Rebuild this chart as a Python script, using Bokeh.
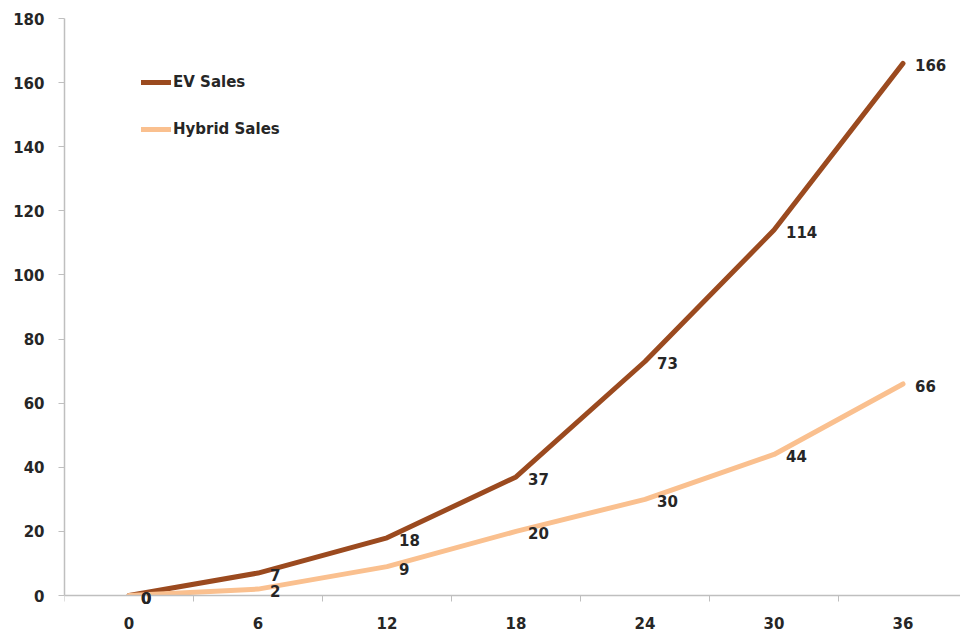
from bokeh.plotting import figure
from bokeh.models import (ColumnDataSource, Range1d, FixedTicker, Label,
                          Legend, LegendItem, BoxAnnotation)
from bokeh.embed import file_html
from bokeh.resources import INLINE

# Months since launch and cumulative sales
months = [0, 6, 12, 18, 24, 30, 36]
ev_sales = [0, 7, 18, 37, 73, 114, 166]
hybrid_sales = [0, 2, 9, 20, 30, 44, 66]
y_ticks = [0, 20, 40, 60, 80, 100, 120, 140, 160, 180]

EV_COLOR = "#9B4A1F"
HYBRID_COLOR = "#FAC08F"
TEXT_COLOR = "#262626"
AXIS_COLOR = "#BFBFBF"
FONT = "DejaVu Sans"
FONT_SIZE = "15px"

W, H = 960, 634
LEFT, TOP = 64, 18
ZERO_PX = 595            # canvas row of the value axis' zero
band = 129.0             # pixels per 6-month step
x_start = -3.0
x_end = x_start + (W - LEFT) / band * 6.0
px_per_unit = (ZERO_PX - TOP) / 180.0
y_start = -(H - ZERO_PX) / px_per_unit   # room under zero for the month labels

p = figure(width=W, height=H, output_backend="svg", toolbar_location=None,
           x_range=Range1d(x_start, x_end), y_range=Range1d(y_start, 180),
           min_border_left=LEFT, min_border_right=0,
           min_border_top=TOP, min_border_bottom=0)
p.outline_line_color = None
p.xgrid.visible = False
p.ygrid.visible = False
p.background_fill_color = "white"
p.border_fill_color = "white"

src = ColumnDataSource(dict(x=months, ev=ev_sales, hy=hybrid_sales))

ev_r = p.line("x", "ev", source=src, line_color=EV_COLOR, line_width=5,
              line_cap="round", line_join="round", level="underlay")
hy_r = p.line("x", "hy", source=src, line_color=HYBRID_COLOR, line_width=5,
              line_cap="round", line_join="round", level="underlay")

# keep the lines above the zero line
p.add_layout(BoxAnnotation(top=0, fill_color="white", fill_alpha=1,
                           line_alpha=0, level="glyph"))

# value labels to the right of each point
for series in (ev_sales, hybrid_sales):
    for m, v in zip(months, series):
        p.add_layout(Label(x=m, y=v, text=str(v), x_offset=12, y_offset=-2,
                           text_baseline="middle", text_align="left",
                           text_font=FONT, text_font_style="bold",
                           text_font_size=FONT_SIZE, text_color=TEXT_COLOR,
                           level="overlay"))

# x axis sits on zero: labels centred on each step, small ticks between steps
xa = p.xaxis[0]
xa.fixed_location = 0
boundaries = [m + 3 for m in [-6] + months]
xa.ticker = FixedTicker(ticks=months, minor_ticks=boundaries)
xa.major_tick_out = 0
xa.major_tick_in = 0
xa.minor_tick_out = 6
xa.minor_tick_in = 0
xa.minor_tick_line_color = AXIS_COLOR
xa.axis_line_color = AXIS_COLOR
xa.axis_line_width = 1.5
xa.major_label_standoff = 15

ya = p.yaxis[0]
ya.ticker = FixedTicker(ticks=y_ticks)
ya.bounds = (0, 180)
ya.major_tick_out = 6
ya.major_tick_in = 0
ya.minor_tick_out = 0
ya.minor_tick_in = 0
ya.major_tick_line_color = AXIS_COLOR
ya.axis_line_color = AXIS_COLOR
ya.axis_line_width = 1.5
ya.major_label_standoff = 14

for ax in (xa, ya):
    ax.major_label_text_font = FONT
    ax.major_label_text_font_style = "bold"
    ax.major_label_text_font_size = FONT_SIZE
    ax.major_label_text_color = TEXT_COLOR

# legend placed from the bottom-left of the frame
legend_bottom = H - 139
legend = Legend(items=[LegendItem(label="EV Sales", renderers=[ev_r]),
                       LegendItem(label="Hybrid Sales", renderers=[hy_r])],
                location=(77, legend_bottom), orientation="vertical",
                glyph_width=30, glyph_height=20, label_height=20,
                label_standoff=2, spacing=27, padding=0, margin=0,
                border_line_alpha=0, background_fill_alpha=0,
                label_text_font=FONT, label_text_font_style="bold",
                label_text_font_size=FONT_SIZE, label_text_color=TEXT_COLOR)
p.add_layout(legend)

open("out.html", "w").write(file_html(p, INLINE))
